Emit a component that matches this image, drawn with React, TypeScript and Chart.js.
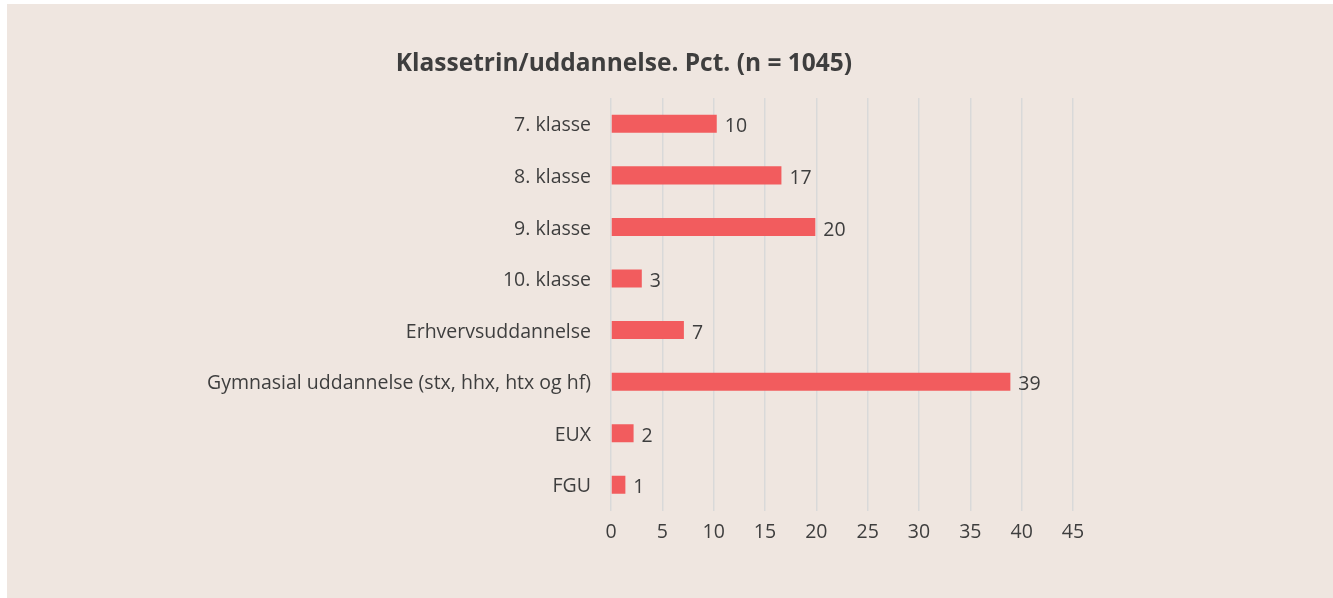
import React, { useEffect, useRef } from "react";
import { Chart, registerables } from "chart.js";

Chart.register(...registerables);

const categories = [
  "7. klasse",
  "8. klasse",
  "9. klasse",
  "10. klasse",
  "Erhvervsuddannelse",
  "Gymnasial uddannelse (stx, hhx, htx og hf)",
  "EUX",
  "FGU",
];
const values = [10.3, 16.6, 19.9, 3.0, 7.1, 38.9, 2.2, 1.4];
const xTicks = [0, 5, 10, 15, 20, 25, 30, 35, 40, 45];
const titleText = "Klassetrin/uddannelse. Pct. (n = 1045)";

const TEXT = "#3e3e3e";
const BAR = "#F25C5E";
const BG = "#EFE6E0";
const FS = 19.5;

const valueLabels = {
  id: "valueLabels",
  afterDatasetsDraw(chart: any) {
    const ctx = chart.ctx;
    const meta = chart.getDatasetMeta(0);
    ctx.save();
    ctx.font = `${FS}px 'Open Sans'`;
    ctx.fillStyle = TEXT;
    ctx.textAlign = "left";
    ctx.textBaseline = "middle";
    meta.data.forEach((bar: any, i: number) => {
      ctx.fillText(String(Math.round(values[i])), bar.x + 8, bar.y + 3);
    });
    ctx.restore();
  },
};

export default function App() {
  const ref = useRef<HTMLCanvasElement>(null);
  useEffect(() => {
    document.body.style.margin = "0";
    const chart = new Chart(ref.current!, {
      type: "bar",
      data: {
        labels: categories,
        datasets: [
          {
            data: values,
            backgroundColor: BAR,
            categoryPercentage: 1,
            barPercentage: 0.35,
          },
        ],
      },
      options: {
        indexAxis: "y",
        animation: false,
        responsive: false,
        layout: { padding: { left: 168, right: 260, top: 38, bottom: 44 } },
        plugins: {
          legend: { display: false },
          tooltip: { enabled: false },
          title: {
            display: true,
            text: titleText,
            color: TEXT,
            font: { family: "'Open Sans'", size: 24.5, weight: "bold", lineHeight: 1.2 },
            padding: { top: 7, bottom: 19.6 },
          },
        },
        scales: {
          x: {
            min: 0,
            max: 45,
            afterBuildTicks(scale: any) {
              scale.ticks = xTicks.map((v) => ({ value: v }));
            },
            grid: { color: "#d9d9d9", lineWidth: 1.5, drawTicks: false },
            border: { display: false },
            ticks: {
              color: TEXT,
              padding: 10,
              font: { family: "'Open Sans'", size: FS },
            },
          },
          y: {
            afterFit(scale: any) {
              scale.width = 436;
            },
            grid: { display: false, drawTicks: false },
            border: { display: false },
            ticks: {
              color: TEXT,
              padding: 20,
              labelOffset: 2,
              font: { family: "'Open Sans'", size: FS },
            },
          },
        },
      },
      plugins: [valueLabels],
    });
    return () => chart.destroy();
  }, []);
  return (
    <div
      style={{
        position: "absolute",
        left: 7,
        top: 4,
        width: 1326,
        height: 594,
        background: BG,
      }}
    >
      <canvas ref={ref} width={1326} height={594} style={{ display: "block" }} />
    </div>
  );
}
